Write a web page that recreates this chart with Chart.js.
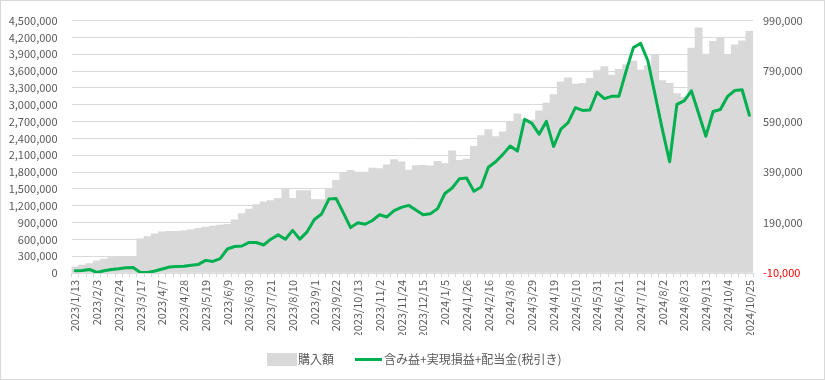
<!DOCTYPE html>
<html><head><meta charset="utf-8">
<script src="https://cdn.jsdelivr.net/npm/chart.js@4/dist/chart.umd.min.js"></script>
<style>
html,body{margin:0;padding:0;background:#fff;}
#wrap{position:relative;width:825px;height:380px;overflow:hidden;background:#fff;}
#frame{position:absolute;left:0;top:0;width:825px;height:380px;box-sizing:border-box;border:1px solid #d9d9d9;pointer-events:none;}
canvas{position:absolute;left:0;top:0;}
.lg{position:absolute;font-family:"Noto Sans CJK JP","Noto Sans",sans-serif;font-size:12px;color:#595959;line-height:14px;white-space:nowrap;}
</style></head><body>
<div id="wrap">
<canvas id="c" width="825" height="380"></canvas>
<div style="position:absolute;left:267px;top:353px;width:30px;height:13px;background:#d9d9d9;"></div>
<div class="lg" style="left:298px;top:352px;">購入額</div>
<div style="position:absolute;left:355px;top:358px;width:27px;height:3px;background:#00b050;"></div>
<div class="lg" style="left:384px;top:352px;">含み益+実現損益+配当金(税引き)</div>
<div id="frame"></div>
</div>
<script>
const dates = [
"2023/1/13","2023/1/20","2023/1/27","2023/2/3","2023/2/10","2023/2/17","2023/2/24","2023/3/3","2023/3/10","2023/3/17",
"2023/3/24","2023/3/31","2023/4/7","2023/4/14","2023/4/21","2023/4/28","2023/5/2","2023/5/12","2023/5/19","2023/5/26",
"2023/6/2","2023/6/9","2023/6/16","2023/6/23","2023/6/30","2023/7/7","2023/7/14","2023/7/21","2023/7/28","2023/8/4",
"2023/8/10","2023/8/18","2023/8/25","2023/9/1","2023/9/8","2023/9/15","2023/9/22","2023/9/29","2023/10/6","2023/10/13",
"2023/10/20","2023/10/27","2023/11/2","2023/11/10","2023/11/17","2023/11/24","2023/12/1","2023/12/8","2023/12/15","2023/12/22",
"2023/12/29","2024/1/5","2024/1/12","2024/1/19","2024/1/26","2024/2/2","2024/2/9","2024/2/16","2024/2/22","2024/3/1",
"2024/3/8","2024/3/15","2024/3/22","2024/3/29","2024/4/5","2024/4/12","2024/4/19","2024/4/26","2024/5/2","2024/5/10",
"2024/5/17","2024/5/24","2024/5/31","2024/6/7","2024/6/14","2024/6/21","2024/6/28","2024/7/5","2024/7/12","2024/7/19",
"2024/7/26","2024/8/2","2024/8/9","2024/8/16","2024/8/23","2024/8/30","2024/9/6","2024/9/13","2024/9/20","2024/9/27",
"2024/10/4","2024/10/11","2024/10/18","2024/10/25"];

// 購入額 (left axis)
const purchase = [
110000,140000,170000,215000,250000,275000,285000,285000,285000,610000,
650000,700000,735000,742000,745000,750000,775000,795000,820000,835000,
855000,868000,950000,1060000,1140000,1220000,1270000,1290000,1330000,1500000,
1330000,1470000,1470000,1310000,1310000,1500000,1650000,1790000,1830000,1800000,
1800000,1870000,1860000,1930000,2020000,1980000,1835000,1915000,1920000,1910000,
1990000,1950000,2180000,2010000,2030000,2260000,2450000,2555000,2430000,2515000,
2700000,2840000,2740000,2725000,2890000,3030000,3180000,3410000,3480000,3370000,
3380000,3470000,3610000,3680000,3530000,3630000,3715000,3780000,3620000,3700000,
3890000,3430000,3380000,3200000,3130000,4010000,4370000,3905000,4130000,4185000,
3880000,4070000,4140000,4310000];

// 含み益+実現損益+配当金(税引き) (right axis)
const profit = [
-1000,0,4000,-8000,-1000,4000,7000,11000,12000,-8000,
-8000,-2000,6000,14000,16000,17000,21000,24000,40000,36000,
47000,85000,95000,97000,111000,111000,101000,124000,141000,124000,
159000,124000,153000,202000,224000,283000,285000,228000,170000,189000,
183000,198000,221000,212000,237000,250000,258000,240000,221000,225000,
245000,305000,327000,363000,366000,314000,331000,409000,431000,460000,
493000,473000,599000,583000,540000,591000,491000,560000,586000,645000,
634000,636000,706000,681000,690000,690000,790000,883000,900000,831000,
695000,558000,431000,658000,672000,712000,622000,532000,630000,638000,
690000,713000,716000,615000];

const leftMin = 0, leftMax = 4500000, leftStep = 300000;
const rightMin = -10000, rightMax = 990000, rightStep = 200000;
const labelEvery = 3;

const FONT = {family: '"Noto Sans CJK JP", "Noto Sans", sans-serif', size: 11};
const fmt = v => Number(v).toLocaleString('en-US');

new Chart(document.getElementById('c'), {
  data: {
    labels: dates,
    datasets: [
      {type: 'line', label: '含み益+実現損益+配当金(税引き)', data: profit, yAxisID: 'y1',
       borderColor: '#00b050', backgroundColor: '#00b050', borderWidth: 3, pointRadius: 0,
       tension: 0, borderJoinStyle: 'round', borderCapStyle: 'round', order: 0},
      {type: 'bar', label: '購入額', data: purchase, yAxisID: 'y',
       backgroundColor: '#d9d9d9', borderWidth: 0, barPercentage: 1.0, categoryPercentage: 1.0, order: 1}
    ]
  },
  options: {
    responsive: false, animation: false, devicePixelRatio: 1,
    layout: {padding: {left: 0, right: 0, top: 15, bottom: 45}},
    plugins: {legend: {display: false}, tooltip: {enabled: false}},
    scales: {
      x: {
        type: 'category', offset: true,
        grid: {display: true, drawOnChartArea: false, drawTicks: true, tickLength: 4, color: '#d9d9d9', offset: true},
        border: {display: true, color: '#d9d9d9'},
        ticks: {autoSkip: false, minRotation: 90, maxRotation: 90, padding: 3, color: '#595959', font: FONT,
          callback: (v, i) => i % labelEvery === 0 ? dates[i] : ''},
        afterFit: s => { s.height = 62; }
      },
      y: {
        position: 'left', min: leftMin, max: leftMax,
        grid: {color: '#d9d9d9', drawTicks: false, lineWidth: 1},
        border: {display: false},
        ticks: {stepSize: leftStep, padding: 14, color: '#595959', font: FONT, callback: v => fmt(v)},
        afterFit: s => { s.width = 71.5; }
      },
      y1: {
        position: 'right', min: rightMin, max: rightMax,
        grid: {display: false, drawOnChartArea: false, drawTicks: false},
        border: {display: false},
        ticks: {stepSize: rightStep, padding: 10, font: FONT,
          color: c => (c.tick && c.tick.value < 0) ? '#ff0000' : '#595959',
          callback: v => fmt(v)},
        afterFit: s => { s.width = 72; }
      }
    }
  }
});
</script>
</body></html>
